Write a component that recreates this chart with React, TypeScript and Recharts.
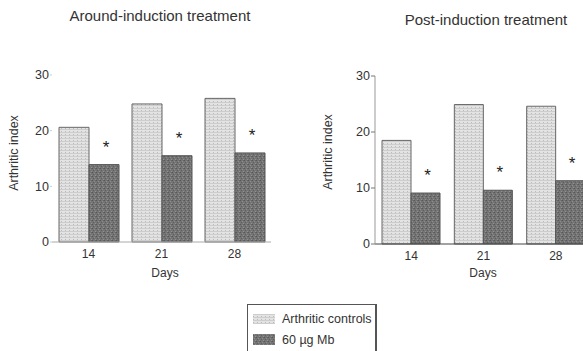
import { BarChart, Bar, XAxis, YAxis, LabelList } from "recharts";

const days = ["14", "21", "28"];
const aroundControls = [20.6, 24.8, 25.8];
const aroundMb = [13.9, 15.5, 16.0];
const postControls = [18.5, 24.9, 24.6];
const postMb = [9.1, 9.6, 11.3];
const yTicks = [0, 10, 20, 30];
const seriesNames = ["Arthritic controls", "60 µg Mb"];

const FONT = "'Liberation Sans', Arial, sans-serif";
const INK = "#333";

type Row = { day: string; controls: number; mb: number };

const buildRows = (controls: number[], mb: number[]): Row[] =>
  days.map((day, i) => ({ day, controls: controls[i], mb: mb[i] }));

const aroundRows = buildRows(aroundControls, aroundMb);
const postRows = buildRows(postControls, postMb);

// asterisk drawn a fixed distance above each treated bar
const renderStar = (props: any) => {
  const { x, y, width } = props;
  return (
    <text
      x={Number(x) + Number(width) / 2 + 2}
      y={Number(y) - 12}
      textAnchor="middle"
      fontFamily={FONT}
      fontSize={17}
      fill="#222"
    >
      *
    </text>
  );
};

const Textures = () => (
  <svg width={0} height={0} style={{ position: "absolute" }}>
    <defs>
      <pattern id="ctrlTex" width={4} height={3} patternUnits="userSpaceOnUse">
        <rect width={4} height={3} fill="#e3e3e3" />
        <rect width={4} height={1} fill="#cdcdcd" />
        <rect x={1} y={2} width={1} height={1} fill="#bcbcbc" />
      </pattern>
      <pattern id="mbTex" width={4} height={4} patternUnits="userSpaceOnUse">
        <rect width={4} height={4} fill="#747474" />
        <rect x={0} y={0} width={1} height={1} fill="#575757" />
        <rect x={2} y={1} width={1} height={1} fill="#8c8c8c" />
        <rect x={1} y={2} width={1} height={1} fill="#5e5e5e" />
        <rect x={3} y={3} width={1} height={1} fill="#929292" />
        <rect x={3} y={0} width={1} height={1} fill="#666" />
      </pattern>
    </defs>
  </svg>
);

type PanelProps = {
  rows: Row[];
  left: number;
  width: number;
  yAxisWidth: number;
  top: number;
  bottom: number;
  barSize: number;
  gap: number;
  yLine: boolean;
  xLineColor: string;
  tickSize: number;
};

const Panel = ({
  rows,
  left,
  width,
  yAxisWidth,
  top,
  bottom,
  barSize,
  gap,
  yLine,
  xLineColor,
  tickSize,
}: PanelProps) => (
  <div style={{ position: "absolute", left, top: 0 }}>
    <BarChart
      width={width}
      height={290}
      data={rows}
      margin={{ top, right: 0, left: 0, bottom }}
      barGap={0}
      barCategoryGap={gap}
    >
      <XAxis
        dataKey="day"
        height={30}
        tickLine={false}
        tickMargin={1}
        axisLine={{ stroke: xLineColor }}
        tick={{ fill: INK, fontSize: 12, fontFamily: FONT }}
      />
      <YAxis
        width={yAxisWidth}
        domain={[0, 30]}
        ticks={yTicks}
        interval={0}
        tickSize={tickSize}
        tickMargin={1}
        axisLine={yLine ? { stroke: "#999" } : false}
        tickLine={{ stroke: yLine ? "#777" : "#ccc" }}
        tick={{ fill: INK, fontSize: 12.5, fontFamily: FONT }}
      />
      <Bar
        dataKey="controls"
        name={seriesNames[0]}
        fill="url(#ctrlTex)"
        stroke="#666"
        strokeWidth={1}
        barSize={barSize}
        isAnimationActive={false}
      />
      <Bar
        dataKey="mb"
        name={seriesNames[1]}
        fill="url(#mbTex)"
        stroke="#555"
        strokeWidth={1}
        barSize={barSize}
        isAnimationActive={false}
      >
        <LabelList dataKey="mb" content={renderStar} />
      </Bar>
    </BarChart>
  </div>
);

const Overlay = () => (
  <svg
    width={583}
    height={351}
    style={{ position: "absolute", left: 0, top: 0, pointerEvents: "none" }}
  >
    <g fontFamily={FONT} fill={INK}>
      <text x={160} y={21} fontSize={15} textAnchor="middle">
        Around-induction treatment
      </text>
      <text x={486} y={25} fontSize={15} textAnchor="middle">
        Post-induction treatment
      </text>
      <text x={165} y={277} fontSize={12} textAnchor="middle">
        Days
      </text>
      <text x={483} y={277} fontSize={12} textAnchor="middle">
        Days
      </text>
      <text
        transform="translate(18 153) rotate(-90)"
        fontSize={12.5}
        textAnchor="middle"
      >
        Arthritic index
      </text>
      <text
        transform="translate(332 152) rotate(-90)"
        fontSize={12.5}
        textAnchor="middle"
      >
        Arthritic index
      </text>
    </g>
  </svg>
);

const LegendBox = () => (
  <div
    style={{
      position: "absolute",
      left: 247,
      top: 304,
      width: 130,
      height: 60,
      border: "1px solid #555",
      borderRightWidth: 2,
      background: "#fff",
      boxSizing: "border-box",
    }}
  >
    <svg width={128} height={50}>
      <rect x={5} y={9} width={22} height={10} fill="url(#ctrlTex)" />
      <rect x={5} y={29} width={22} height={11} fill="url(#mbTex)" />
      <g fontFamily={FONT} fontSize={12.5} fill={INK}>
        <text x={34} y={18}>
          {seriesNames[0]}
        </text>
        <text x={34} y={39}>
          {seriesNames[1]}
        </text>
      </g>
    </svg>
  </div>
);

export default function App() {
  return (
    <div
      style={{
        position: "absolute",
        left: 0,
        top: 0,
        width: 583,
        height: 351,
        overflow: "hidden",
        background: "#fff",
      }}
    >
      <Textures />
      <Panel
        rows={aroundRows}
        left={0}
        width={271}
        yAxisWidth={52}
        top={75}
        bottom={18}
        barSize={30}
        gap={6}
        yLine={false}
        xLineColor="#aaa"
        tickSize={2}
      />
      <Panel
        rows={postRows}
        left={290}
        width={302}
        yAxisWidth={85}
        top={76}
        bottom={16}
        barSize={29}
        gap={7}
        yLine={true}
        xLineColor="#444"
        tickSize={4}
      />
      <Overlay />
      <LegendBox />
    </div>
  );
}
